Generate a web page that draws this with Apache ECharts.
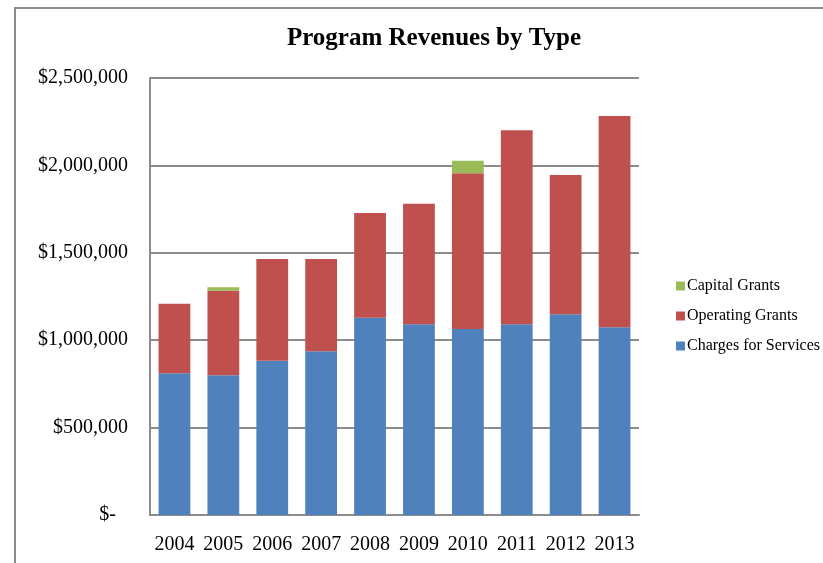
<!DOCTYPE html>
<html>
<head>
<meta charset="utf-8">
<script src="https://cdn.jsdelivr.net/npm/echarts@6/dist/echarts.min.js"></script>
<style>
  html, body { margin: 0; padding: 0; background: #fff; }
  #frame { position: absolute; left: 14px; top: 7px; width: 809px; height: 556px;
           border-left: 2px solid #8c8c8c; border-top: 2px solid #8c8c8c; box-sizing: border-box; }
  #chart { position: absolute; left: 0; top: 0; width: 823px; height: 563px; }
</style>
</head>
<body>
<div id="frame"></div>
<div id="chart"></div>
<script>
// 年份
const years = ['2004', '2005', '2006', '2007', '2008', '2009', '2010', '2011', '2012', '2013']
const chargesForServices = [811000, 799000, 883000, 937000, 1129000, 1091000, 1064000, 1091000, 1148000, 1074000]
const operatingGrants = [398000, 484000, 582000, 528000, 599000, 690000, 891000, 1110000, 797000, 1209000]
const capitalGrants = [0, 20000, 0, 0, 0, 0, 72000, 0, 0, 0]
const yTicks = [0, 500000, 1000000, 1500000, 2000000, 2500000]

const serif = '"Liberation Serif", "Times New Roman", serif'
const myEcharts = echarts.init(document.getElementById('chart'))

function money(v) {
  if (v === 0) return '{z|$-}'
  return '$' + v.toLocaleString('en-US')
}

const option = {
  animation: false,
  title: {
    text: 'Program Revenues by Type',
    left: 429,
    textAlign: 'center',
    top: 21,
    textStyle: { fontFamily: serif, fontSize: 25, fontWeight: 'bold', color: '#000' }
  },
  legend: {
    orient: 'vertical',
    left: 671,
    top: 273,
    itemWidth: 9,
    itemHeight: 9,
    itemGap: 14,
    icon: 'rect',
    data: ['Capital Grants', 'Operating Grants', 'Charges for Services'],
    textStyle: { fontFamily: serif, fontSize: 16, color: '#000', padding: [0, 0, 0, -3] }
  },
  grid: { left: 150, right: 184, top: 78, bottom: 48 },
  xAxis: {
    type: 'category',
    data: years,
    axisTick: { show: false },
    axisLine: { lineStyle: { color: '#8c8c8c', width: 2 } },
    axisLabel: { fontFamily: serif, fontSize: 20, color: '#000', margin: 20, interval: 0 }
  },
  yAxis: {
    type: 'value',
    min: yTicks[0],
    max: yTicks[yTicks.length - 1],
    interval: 500000,
    axisLine: { show: true, lineStyle: { color: '#8c8c8c', width: 2 } },
    axisTick: { show: false },
    splitLine: { lineStyle: { color: '#8c8c8c', width: 2 } },
    axisLabel: {
      fontFamily: serif, fontSize: 20, color: '#000', margin: 22,
      formatter: money,
      rich: { z: { fontFamily: serif, fontSize: 20, color: '#000', padding: [0, 12, 0, 0] } }
    }
  },
  series: [
    {
      name: 'Charges for Services', type: 'bar', stack: 'rev', barWidth: '65%',
      data: chargesForServices, itemStyle: { color: '#4F81BD' }
    },
    {
      name: 'Operating Grants', type: 'bar', stack: 'rev',
      data: operatingGrants, itemStyle: { color: '#C0504D' }
    },
    {
      name: 'Capital Grants', type: 'bar', stack: 'rev',
      data: capitalGrants, itemStyle: { color: '#9BBB59' }
    }
  ]
}

option && myEcharts.setOption(option)
</script>
</body>
</html>
